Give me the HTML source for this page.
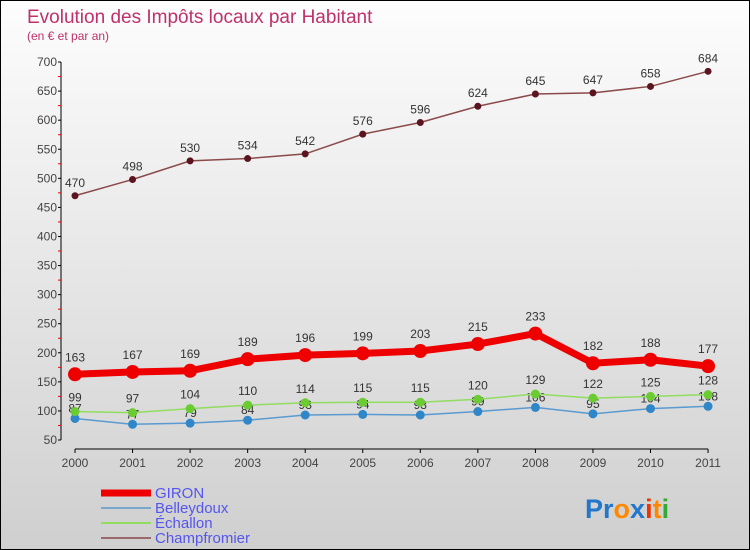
<!DOCTYPE html>
<html><head><meta charset="utf-8"><style>
body{margin:0}
#c{width:748px;height:548px;border:1px solid #000;background:linear-gradient(#fdfdfd,#cfcfcf);position:relative;font-family:"Liberation Sans",sans-serif;overflow:hidden}
</style></head><body>
<div id="c">
<svg id="s" width="748" height="548"></svg>
</div>
<script>
const years=[2000,2001,2002,2003,2004,2005,2006,2007,2008,2009,2010,2011];
const giron=[163,167,169,189,196,199,203,215,233,182,188,177];
const belleydoux=[87,77,79,84,93,94,93,99,106,95,104,108];
const echallon=[99,97,104,110,114,115,115,120,129,122,125,128];
const champfromier=[470,498,530,534,542,576,596,624,645,647,658,684];
const yTicks=[50,100,150,200,250,300,350,400,450,500,550,600,650,700];
const NS="http://www.w3.org/2000/svg";
const s=document.getElementById('s');
const X=i=>74+i*57.55;
const Y=v=>439-(v-50)*0.5815;
function el(t,a,txt){const e=document.createElementNS(NS,t);for(const k in a)e.setAttribute(k,a[k]);if(txt!==undefined)e.textContent=txt;s.appendChild(e);return e;}
let e;
e=el('text',{x:26,y:22,'font-size':19,fill:'#c0306a'},'Evolution des Impôts locaux par Habitant');


e=el('text',{x:26,y:39,'font-size':12,fill:'#c0306a'},'(en € et par an)');


e=el('line',{x1:60,y1:Y(700),x2:60,y2:Y(50),stroke:'#000'});


yTicks.forEach(v=>{
 el('line',{x1:57,x2:60,y1:Y(v),y2:Y(v),stroke:'#000'});
 if(v<700){e=el('line',{x1:57,x2:60,y1:Y(v+25),y2:Y(v+25),stroke:'#e00'});}
 e=el('text',{x:56,y:Y(v)+4,'text-anchor':'end','font-size':12,fill:'#444'},v);
 
 
});
e=el('line',{x1:X(0),x2:X(11),y1:448,y2:448,stroke:'#000'});


years.forEach((yr,i)=>{
 el('line',{x1:X(i),x2:X(i),y1:448,y2:452,stroke:'#000'});
 e=el('text',{x:X(i),y:466,'text-anchor':'middle','font-size':12,fill:'#444'},yr);
 
 
});
function series(d,color,w,r,name,dotColor,labOff){
 e=el('polyline',{points:d.map((v,i)=>X(i)+','+Y(v)).join(' '),fill:'none',stroke:color,'stroke-width':w});
 
 
 d.forEach((v,i)=>{
  e=el('circle',{cx:X(i),cy:Y(v),r:r,fill:dotColor});
  
  
  e=el('text',{x:X(i),y:Y(v)+labOff,'text-anchor':'middle','font-size':12,fill:'#333'},v);
  
  
 });
}
series(champfromier,'#8b4a4a',1.5,3.5,'champfromier','#5a1520',-9);
series(belleydoux,'#5a9ad0',1.5,4.5,'belleydoux','#2f86c8',-6);
series(echallon,'#90dd60',1.5,4.5,'echallon','#6acc30',-10);
series(giron,'#ee0000',7,7,'giron','#ee0000',-13);
const leg=[['GIRON','#ee0000',7],['Belleydoux','#7aa7cc',2],['Échallon','#90dd60',2],['Champfromier','#9a6a6a',2]];
leg.forEach((l,i)=>{
 const y=492+i*15;
 e=el('line',{x1:100,x2:150,y1:y,y2:y,stroke:l[1],'stroke-width':l[2]});
 
 
 e=el('text',{x:154,y:y+5,'font-size':15,fill:'#5555ee'},l[0]);
 
 
});
e=el('text',{x:584,y:517,'font-size':27,'font-weight':'bold'});


[['Pr','#2277cc'],['o','#ff8800'],['x','#2277cc'],['i','#ee3300'],['t','#ff8800'],['i','#33aa33']].forEach(p=>{const t=document.createElementNS(NS,'tspan');t.setAttribute('fill',p[1]);t.textContent=p[0];e.appendChild(t);});
</script>
</body></html>
